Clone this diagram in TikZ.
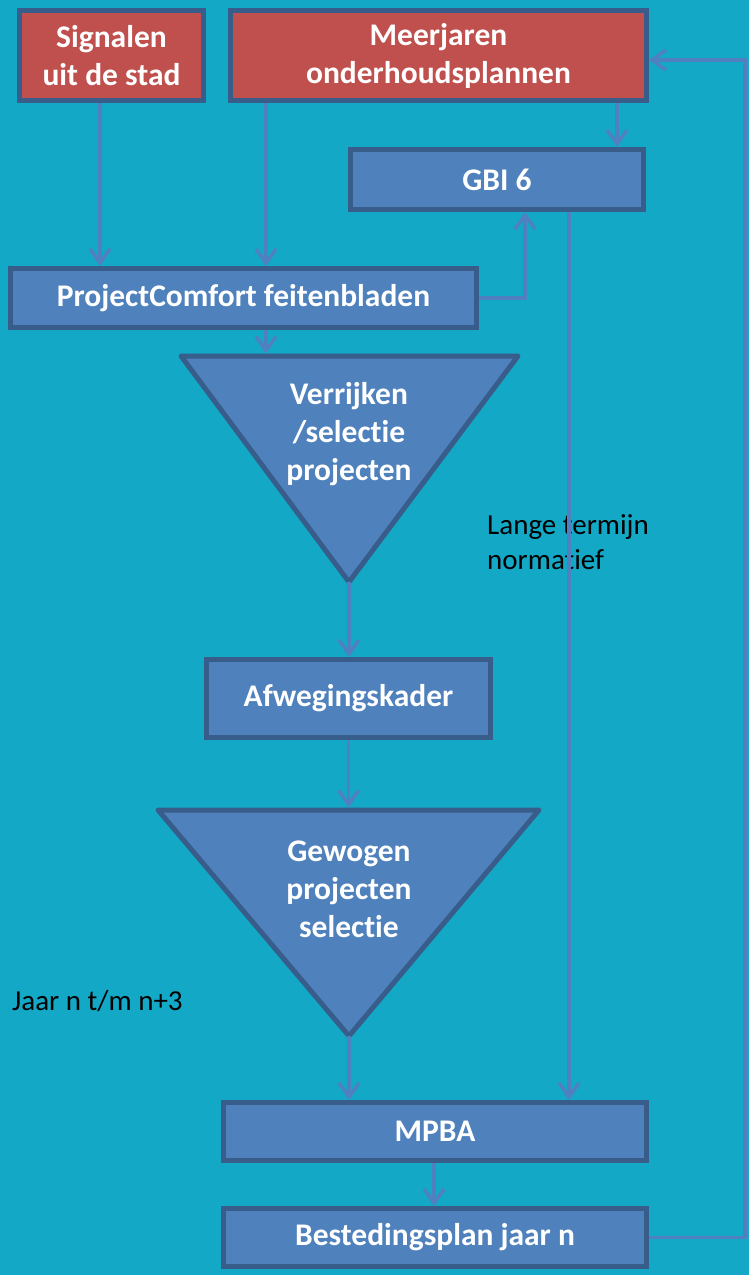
\documentclass[tikz,border=0pt]{standalone}
\usepackage{fontspec}
\setmainfont{Carlito}[Ligatures=NoCommon]
\usetikzlibrary{arrows.meta}
\definecolor{bg}{HTML}{13A8C6}
\definecolor{boxfill}{HTML}{4F81BD}
\definecolor{boxline}{HTML}{385D8A}
\definecolor{redfill}{HTML}{C0504D}
\definecolor{arrcol}{HTML}{5080C0}
\begin{document}
\begin{tikzpicture}[x=1pt,y=-1pt,
  bluebox/.style={draw=boxline, line width=5pt, fill=boxfill, text=white,
    font=\bfseries\fontsize{31.5}{38}\selectfont, align=center, inner sep=0pt},
  redbox/.style={bluebox, fill=redfill},
  tri/.style={draw=boxline, line width=5pt, fill=boxfill, line join=round},
  tritext/.style={text=white, font=\bfseries\fontsize{31.5}{38}\selectfont, align=center, inner sep=0pt},
  note/.style={text=black, font=\fontsize{29}{35}\selectfont, align=left, inner sep=0pt},
  conn/.style={draw=arrcol, line width=3.5pt},
  arr/.style={conn, -{Straight Barb[length=14pt,width=20pt]}}
]
\fill[bg] (0,0) rectangle (749,1275);
\useasboundingbox (0,0) rectangle (749,1275);

% boxes
\node[redbox, minimum width=184, minimum height=90] (sig) at (111.5,55.5) {Signalen\\uit de stad};
\node[redbox, minimum width=416, minimum height=90] (mj) at (438.5,55.5) {Meerjaren\\onderhoudsplannen};
\node[bluebox, minimum width=293, minimum height=60] (gbi) at (497,179.5) {GBI 6};
\node[bluebox, minimum width=466, minimum height=59] (pc) at (243.5,298) {ProjectComfort feitenbladen};
\node[bluebox, minimum width=284, minimum height=78] (afw) at (348.5,698.5) {Afwegingskader};
\node[bluebox, minimum width=423, minimum height=58] (mpba) at (435,1131.5) {MPBA};
\node[bluebox, minimum width=423, minimum height=58] (best) at (435,1237.5) {Bestedingsplan jaar n};

% triangles
\coordinate (t1l) at (181,356);
\coordinate (t1r) at (518,356);
\coordinate (t1a) at (349,582);
\coordinate (t1top) at (349,353.5);
\draw[tri] (t1l) -- (t1r) -- (t1a) -- cycle;
\node[tritext] (t1txt) at (349,434) {Verrijken\\/selectie\\projecten};

\coordinate (t2l) at (158,810);
\coordinate (t2r) at (539,810);
\coordinate (t2a) at (349,1036);
\coordinate (t2top) at (349,807.5);
\draw[tri] (t2l) -- (t2r) -- (t2a) -- cycle;
\node[tritext] (t2txt) at (349,889) {Gewogen\\projecten\\selectie};

% notes
\node[note, anchor=north west] (lange) at (487,514) {Lange termijn\\normatief};
\node[note, anchor=west] (jaar) at (12,1001) {Jaar n t/m n+3};

% connectors
\draw[arr] ([xshift=-11.5pt]sig.south) -- ([xshift=-11.5pt]sig.south |- pc.north);
\draw[arr] ([xshift=-172.5pt]mj.south) -- ([xshift=-172.5pt]mj.south |- pc.north);
\draw[arr] ([xshift=178.5pt]mj.south) -- ([xshift=178.5pt]mj.south |- gbi.north);
\draw[arr] (pc.east) -| ([xshift=28pt]gbi.south);
\draw[arr] ([xshift=72pt]gbi.south) -- ([xshift=72pt]gbi.south |- mpba.north);
\draw[arr] ([xshift=22.5pt]pc.south) -- ([xshift=22.5pt]pc.south |- t1top);
\draw[arr] (t1a) -- (t1a |- afw.north);
\draw[arr] (afw.south) -- (afw.south |- t2top);
\draw[arr] (t2a) -- (t2a |- mpba.north);
\draw[arr] ([xshift=-1pt]mpba.south) -- ([xshift=-1pt]mpba.south |- best.north);
\coordinate (fb) at (745,60);
\draw[arr] (best.east) -| (fb) -- (fb -| mj.east);
\end{tikzpicture}
\end{document}
